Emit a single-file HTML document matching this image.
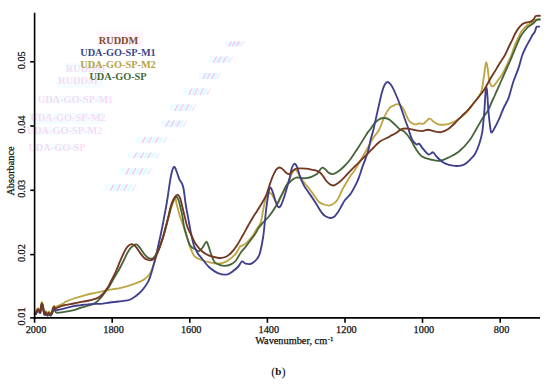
<!DOCTYPE html>
<html><head><meta charset="utf-8"><style>
html,body{margin:0;padding:0;background:#fff;}
body{width:550px;height:384px;overflow:hidden;}
svg{display:block;}
text{font-family:"Liberation Serif",serif;}
</style></head><body>
<svg width="550" height="384" viewBox="0 0 550 384">
<defs><filter id="gb" x="-5%" y="-20%" width="110%" height="140%"><feGaussianBlur stdDeviation="0.45"/></filter></defs>
<g><rect x="225.0" y="41.5" width="16.5" height="4.8" fill="#eefdff"/><line x1="228.3" y1="46.3" x2="231.8" y2="41.5" stroke="#ff8ce0" stroke-width="1.3" opacity="0.50"/><line x1="232.0" y1="46.3" x2="235.5" y2="41.5" stroke="#ff8ce0" stroke-width="1.3" opacity="0.50"/><line x1="236.0" y1="46.3" x2="239.5" y2="41.5" stroke="#ff8ce0" stroke-width="1.3" opacity="0.50"/><line x1="240.8" y1="46.3" x2="244.3" y2="41.5" stroke="#ff8ce0" stroke-width="1.3" opacity="0.25"/><line x1="230.3" y1="46.3" x2="233.8" y2="41.5" stroke="#9ff0ff" stroke-width="1.2" opacity="0.3"/><line x1="234.2" y1="46.3" x2="237.7" y2="41.5" stroke="#9ff0ff" stroke-width="1.2" opacity="0.3"/><line x1="238.2" y1="46.3" x2="241.7" y2="41.5" stroke="#9ff0ff" stroke-width="1.2" opacity="0.3"/><rect x="209.0" y="56.5" width="21.0" height="6.2" fill="#eefdff"/><line x1="213.2" y1="62.7" x2="216.7" y2="56.5" stroke="#ff8ce0" stroke-width="1.3" opacity="0.50"/><line x1="218.0" y1="62.7" x2="221.5" y2="56.5" stroke="#ff8ce0" stroke-width="1.3" opacity="0.50"/><line x1="223.0" y1="62.7" x2="226.5" y2="56.5" stroke="#ff8ce0" stroke-width="1.3" opacity="0.50"/><line x1="229.2" y1="62.7" x2="232.7" y2="56.5" stroke="#ff8ce0" stroke-width="1.3" opacity="0.25"/><line x1="215.7" y1="62.7" x2="219.2" y2="56.5" stroke="#9ff0ff" stroke-width="1.2" opacity="0.3"/><line x1="220.8" y1="62.7" x2="224.3" y2="56.5" stroke="#9ff0ff" stroke-width="1.2" opacity="0.3"/><line x1="225.8" y1="62.7" x2="229.3" y2="56.5" stroke="#9ff0ff" stroke-width="1.2" opacity="0.3"/><rect x="199.0" y="73.0" width="18.8" height="6.0" fill="#eefdff"/><line x1="202.8" y1="79.0" x2="206.2" y2="73.0" stroke="#ff8ce0" stroke-width="1.3" opacity="0.50"/><line x1="207.0" y1="79.0" x2="210.5" y2="73.0" stroke="#ff8ce0" stroke-width="1.3" opacity="0.50"/><line x1="211.5" y1="79.0" x2="215.0" y2="73.0" stroke="#ff8ce0" stroke-width="1.3" opacity="0.50"/><line x1="217.0" y1="79.0" x2="220.5" y2="73.0" stroke="#ff8ce0" stroke-width="1.3" opacity="0.25"/><line x1="205.0" y1="79.0" x2="208.5" y2="73.0" stroke="#9ff0ff" stroke-width="1.2" opacity="0.3"/><line x1="209.5" y1="79.0" x2="213.0" y2="73.0" stroke="#9ff0ff" stroke-width="1.2" opacity="0.3"/><line x1="214.0" y1="79.0" x2="217.5" y2="73.0" stroke="#9ff0ff" stroke-width="1.2" opacity="0.3"/><rect x="184.0" y="88.3" width="24.0" height="6.7" fill="#eefdff"/><line x1="188.8" y1="95.0" x2="192.3" y2="88.3" stroke="#ff8ce0" stroke-width="1.3" opacity="0.50"/><line x1="194.2" y1="95.0" x2="197.7" y2="88.3" stroke="#ff8ce0" stroke-width="1.3" opacity="0.50"/><line x1="200.0" y1="95.0" x2="203.5" y2="88.3" stroke="#ff8ce0" stroke-width="1.3" opacity="0.50"/><line x1="207.0" y1="95.0" x2="210.5" y2="88.3" stroke="#ff8ce0" stroke-width="1.3" opacity="0.25"/><line x1="191.7" y1="95.0" x2="195.2" y2="88.3" stroke="#9ff0ff" stroke-width="1.2" opacity="0.3"/><line x1="197.4" y1="95.0" x2="200.9" y2="88.3" stroke="#9ff0ff" stroke-width="1.2" opacity="0.3"/><line x1="203.2" y1="95.0" x2="206.7" y2="88.3" stroke="#9ff0ff" stroke-width="1.2" opacity="0.3"/><rect x="170.0" y="104.3" width="23.2" height="6.7" fill="#eefdff"/><line x1="174.7" y1="111.0" x2="178.2" y2="104.3" stroke="#ff8ce0" stroke-width="1.3" opacity="0.50"/><line x1="179.9" y1="111.0" x2="183.4" y2="104.3" stroke="#ff8ce0" stroke-width="1.3" opacity="0.50"/><line x1="185.5" y1="111.0" x2="189.0" y2="104.3" stroke="#ff8ce0" stroke-width="1.3" opacity="0.50"/><line x1="192.3" y1="111.0" x2="195.8" y2="104.3" stroke="#ff8ce0" stroke-width="1.3" opacity="0.25"/><line x1="177.4" y1="111.0" x2="180.9" y2="104.3" stroke="#9ff0ff" stroke-width="1.2" opacity="0.3"/><line x1="183.0" y1="111.0" x2="186.5" y2="104.3" stroke="#9ff0ff" stroke-width="1.2" opacity="0.3"/><line x1="188.6" y1="111.0" x2="192.1" y2="104.3" stroke="#9ff0ff" stroke-width="1.2" opacity="0.3"/><rect x="161.0" y="120.4" width="23.2" height="6.6" fill="#eefdff"/><line x1="165.7" y1="127.0" x2="169.2" y2="120.4" stroke="#ff8ce0" stroke-width="1.3" opacity="0.50"/><line x1="170.9" y1="127.0" x2="174.4" y2="120.4" stroke="#ff8ce0" stroke-width="1.3" opacity="0.50"/><line x1="176.5" y1="127.0" x2="180.0" y2="120.4" stroke="#ff8ce0" stroke-width="1.3" opacity="0.50"/><line x1="183.3" y1="127.0" x2="186.8" y2="120.4" stroke="#ff8ce0" stroke-width="1.3" opacity="0.25"/><line x1="168.4" y1="127.0" x2="171.9" y2="120.4" stroke="#9ff0ff" stroke-width="1.2" opacity="0.3"/><line x1="174.0" y1="127.0" x2="177.5" y2="120.4" stroke="#9ff0ff" stroke-width="1.2" opacity="0.3"/><line x1="179.6" y1="127.0" x2="183.1" y2="120.4" stroke="#9ff0ff" stroke-width="1.2" opacity="0.3"/><rect x="136.3" y="137.0" width="28.4" height="5.8" fill="#eefdff"/><line x1="142.0" y1="142.8" x2="145.5" y2="137.0" stroke="#ff8ce0" stroke-width="1.3" opacity="0.50"/><line x1="148.4" y1="142.8" x2="151.9" y2="137.0" stroke="#ff8ce0" stroke-width="1.3" opacity="0.50"/><line x1="155.2" y1="142.8" x2="158.8" y2="137.0" stroke="#ff8ce0" stroke-width="1.3" opacity="0.50"/><line x1="163.6" y1="142.8" x2="167.1" y2="137.0" stroke="#ff8ce0" stroke-width="1.3" opacity="0.25"/><line x1="145.4" y1="142.8" x2="148.9" y2="137.0" stroke="#9ff0ff" stroke-width="1.2" opacity="0.3"/><line x1="152.2" y1="142.8" x2="155.7" y2="137.0" stroke="#9ff0ff" stroke-width="1.2" opacity="0.3"/><line x1="159.0" y1="142.8" x2="162.5" y2="137.0" stroke="#9ff0ff" stroke-width="1.2" opacity="0.3"/><rect x="127.7" y="152.5" width="29.7" height="5.8" fill="#eefdff"/><line x1="133.6" y1="158.3" x2="137.1" y2="152.5" stroke="#ff8ce0" stroke-width="1.3" opacity="0.50"/><line x1="140.4" y1="158.3" x2="143.9" y2="152.5" stroke="#ff8ce0" stroke-width="1.3" opacity="0.50"/><line x1="147.5" y1="158.3" x2="151.0" y2="152.5" stroke="#ff8ce0" stroke-width="1.3" opacity="0.50"/><line x1="156.2" y1="158.3" x2="159.7" y2="152.5" stroke="#ff8ce0" stroke-width="1.3" opacity="0.25"/><line x1="137.2" y1="158.3" x2="140.7" y2="152.5" stroke="#9ff0ff" stroke-width="1.2" opacity="0.3"/><line x1="144.3" y1="158.3" x2="147.8" y2="152.5" stroke="#9ff0ff" stroke-width="1.2" opacity="0.3"/><line x1="151.5" y1="158.3" x2="155.0" y2="152.5" stroke="#9ff0ff" stroke-width="1.2" opacity="0.3"/><rect x="120.0" y="168.0" width="29.0" height="6.6" fill="#eefdff"/><line x1="125.8" y1="174.6" x2="129.3" y2="168.0" stroke="#ff8ce0" stroke-width="1.3" opacity="0.50"/><line x1="132.4" y1="174.6" x2="135.9" y2="168.0" stroke="#ff8ce0" stroke-width="1.3" opacity="0.50"/><line x1="139.3" y1="174.6" x2="142.8" y2="168.0" stroke="#ff8ce0" stroke-width="1.3" opacity="0.50"/><line x1="147.9" y1="174.6" x2="151.4" y2="168.0" stroke="#ff8ce0" stroke-width="1.3" opacity="0.25"/><line x1="129.3" y1="174.6" x2="132.8" y2="168.0" stroke="#9ff0ff" stroke-width="1.2" opacity="0.3"/><line x1="136.3" y1="174.6" x2="139.8" y2="168.0" stroke="#9ff0ff" stroke-width="1.2" opacity="0.3"/><line x1="143.2" y1="174.6" x2="146.7" y2="168.0" stroke="#9ff0ff" stroke-width="1.2" opacity="0.3"/><rect x="104.5" y="184.4" width="29.0" height="6.6" fill="#eefdff"/><line x1="110.3" y1="191.0" x2="113.8" y2="184.4" stroke="#ff8ce0" stroke-width="1.3" opacity="0.50"/><line x1="116.9" y1="191.0" x2="120.4" y2="184.4" stroke="#ff8ce0" stroke-width="1.3" opacity="0.50"/><line x1="123.8" y1="191.0" x2="127.3" y2="184.4" stroke="#ff8ce0" stroke-width="1.3" opacity="0.50"/><line x1="132.4" y1="191.0" x2="135.9" y2="184.4" stroke="#ff8ce0" stroke-width="1.3" opacity="0.25"/><line x1="113.8" y1="191.0" x2="117.3" y2="184.4" stroke="#9ff0ff" stroke-width="1.2" opacity="0.3"/><line x1="120.8" y1="191.0" x2="124.3" y2="184.4" stroke="#9ff0ff" stroke-width="1.2" opacity="0.3"/><line x1="127.7" y1="191.0" x2="131.2" y2="184.4" stroke="#9ff0ff" stroke-width="1.2" opacity="0.3"/></g>
<g filter="url(#gb)"><rect x="64.6" y="63.2" width="41.9" height="9.1" fill="#f3fdff"/><rect x="56.4" y="77.8" width="47.4" height="10.0" fill="#f3fdff"/><rect x="41.0" y="96.0" width="69.0" height="7.3" fill="#f3fdff"/><rect x="30.0" y="113.0" width="73.0" height="11.0" fill="#f3fdff"/><rect x="33.6" y="127.0" width="62.0" height="7.5" fill="#f3fdff"/><rect x="35.5" y="144.0" width="43.5" height="6.5" fill="#f3fdff"/><text x="85.5" y="72.3" text-anchor="middle" font-size="10.3" font-weight="bold" fill="#ff78da" opacity="0.26">RUDDM</text><text x="78.0" y="84.1" text-anchor="middle" font-size="10.3" font-weight="bold" fill="#ff78da" opacity="0.26">RUDDM</text><text x="75.5" y="103.3" text-anchor="middle" font-size="10.3" font-weight="bold" fill="#ff78da" opacity="0.26">UDA-GO-SP-M1</text><text x="68.0" y="120.5" text-anchor="middle" font-size="10.3" font-weight="bold" fill="#ff78da" opacity="0.26">UDA-GO-SP-M2</text><text x="64.5" y="134.0" text-anchor="middle" font-size="10.3" font-weight="bold" fill="#ff78da" opacity="0.26">UDA-GO-SP-M2</text><text x="57.0" y="150.5" text-anchor="middle" font-size="10.3" font-weight="bold" fill="#ff78da" opacity="0.26">UDA-GO-SP</text></g>
<g fill="none" stroke-width="1.85" stroke-linejoin="round" stroke-linecap="round">
<path d="M35.5 312.2 C35.9 311.5 37.2 308.4 38.0 308.2 C38.8 307.9 39.3 311.7 40.0 310.7 C40.7 309.7 41.3 301.9 42.0 302.2 C42.7 302.5 43.6 311.0 44.2 312.5 C44.8 314.0 45.3 311.0 45.8 311.2 C46.3 311.4 46.8 313.4 47.3 313.5 C47.8 313.6 48.3 311.5 48.8 311.5 C49.3 311.5 49.8 313.5 50.3 313.5 C50.8 313.5 51.2 312.6 51.8 311.4 C52.4 310.1 53.0 306.8 53.7 306.0 C54.4 305.2 54.4 307.0 56.0 306.6 C57.6 306.2 61.5 304.5 63.1 303.7 C64.7 302.9 63.7 302.7 65.5 301.8 C67.3 300.9 70.8 299.5 73.7 298.5 C76.6 297.5 79.8 296.6 82.8 295.8 C85.8 295.0 88.9 294.2 91.9 293.5 C94.9 292.8 98.0 292.3 101.0 291.7 C104.0 291.1 107.0 290.3 110.0 289.7 C113.0 289.1 116.2 288.9 119.1 288.3 C122.0 287.7 124.7 287.1 127.5 286.2 C130.3 285.3 133.5 284.2 136.2 283.2 C138.9 282.1 141.6 281.1 143.5 279.9 C145.4 278.7 146.7 277.5 147.9 276.2 C149.1 274.9 149.8 273.8 150.8 271.9 C151.8 270.0 152.7 267.3 153.7 264.6 C154.7 261.9 155.6 258.7 156.6 255.8 C157.6 252.9 158.5 250.0 159.5 247.0 C160.5 244.0 161.5 241.2 162.5 238.0 C163.5 234.8 164.4 231.7 165.5 228.0 C166.6 224.3 167.8 219.5 168.8 216.0 C169.8 212.5 170.7 209.4 171.5 207.0 C172.3 204.6 172.8 202.8 173.5 201.5 C174.2 200.2 175.0 198.6 175.5 199.0 C176.0 199.4 176.2 202.2 176.6 204.0 C177.0 205.8 177.7 208.1 178.2 210.0 C178.7 211.9 179.1 213.7 179.7 215.4 C180.2 217.2 180.9 218.8 181.5 220.5 C182.1 222.2 182.7 223.7 183.4 225.8 C184.1 227.9 184.8 230.6 185.5 233.0 C186.2 235.4 186.9 237.5 187.7 240.0 C188.5 242.5 189.2 245.1 190.4 247.8 C191.6 250.5 192.7 254.3 194.6 256.3 C196.5 258.3 199.5 259.0 201.9 260.0 C204.3 261.0 206.5 261.6 209.2 262.2 C211.9 262.8 215.0 263.7 217.9 263.6 C220.8 263.5 223.7 263.0 226.6 261.4 C229.5 259.8 233.2 256.6 235.4 254.2 C237.6 251.8 238.4 248.5 239.8 246.9 C241.2 245.3 242.9 245.4 244.1 244.7 C245.3 244.0 246.2 243.4 247.1 242.5 C248.0 241.6 248.5 240.7 249.5 239.5 C250.5 238.3 251.5 237.6 252.9 235.5 C254.3 233.4 256.7 229.2 258.0 227.0 C259.3 224.8 260.0 225.2 260.8 222.5 C261.6 219.8 262.3 214.7 263.0 211.0 C263.7 207.3 264.4 203.2 265.2 200.5 C265.9 197.8 266.6 196.3 267.5 195.0 C268.4 193.7 269.5 192.7 270.3 192.8 C271.1 192.9 271.7 194.2 272.5 195.5 C273.3 196.8 274.2 199.1 275.0 200.5 C275.8 201.9 276.6 204.3 277.5 204.0 C278.4 203.7 279.1 200.7 280.2 198.5 C281.3 196.3 282.8 193.1 283.9 190.8 C285.0 188.6 285.9 187.0 286.8 185.0 C287.8 183.0 288.6 181.2 289.6 179.0 C290.6 176.8 291.7 173.6 292.6 172.0 C293.6 170.4 294.4 169.6 295.3 169.7 C296.2 169.8 297.1 171.1 298.0 172.5 C298.9 173.9 300.1 176.5 301.0 178.0 C301.9 179.5 302.1 179.9 303.2 181.4 C304.3 182.9 306.1 184.8 307.8 186.9 C309.5 189.0 311.3 191.6 313.2 194.1 C315.1 196.6 317.2 200.3 319.0 202.0 C320.8 203.7 322.3 203.9 324.0 204.5 C325.7 205.1 327.7 205.7 329.2 205.6 C330.7 205.5 331.8 204.7 333.0 204.0 C334.2 203.3 335.3 202.5 336.4 201.2 C337.5 199.9 338.5 197.9 339.5 196.0 C340.5 194.1 341.1 191.9 342.3 189.6 C343.5 187.3 345.2 184.7 346.6 182.3 C348.1 179.9 349.9 176.7 351.0 175.0 C352.1 173.3 351.4 175.2 353.3 172.3 C355.2 169.4 359.7 161.8 362.1 157.7 C364.5 153.6 366.0 150.9 367.9 147.5 C369.8 144.1 371.8 140.2 373.7 137.3 C375.6 134.4 377.1 133.6 379.0 130.0 C380.9 126.4 383.1 119.4 384.8 115.8 C386.5 112.2 387.8 110.2 389.2 108.5 C390.6 106.8 392.1 106.3 393.5 105.6 C394.9 104.9 396.4 104.0 397.9 104.2 C399.4 104.5 401.1 105.6 402.3 107.1 C403.5 108.5 404.0 110.5 405.2 112.9 C406.4 115.3 408.0 119.5 409.6 121.4 C411.2 123.3 413.2 124.1 414.8 124.4 C416.4 124.7 417.8 123.4 419.2 123.3 C420.6 123.2 421.8 124.4 423.5 123.6 C425.2 122.8 427.7 119.0 429.4 118.7 C431.1 118.4 432.2 120.8 433.7 121.7 C435.1 122.6 436.2 123.8 438.1 124.3 C440.1 124.8 443.0 124.9 445.4 124.6 C447.8 124.3 450.3 123.5 452.7 122.4 C455.1 121.3 457.6 119.8 460.0 118.0 C462.4 116.2 465.1 113.8 467.3 111.5 C469.5 109.2 471.1 106.6 473.0 104.0 C474.9 101.4 477.5 98.3 479.0 96.0 C480.5 93.7 481.1 92.7 481.8 90.0 C482.5 87.3 482.9 83.2 483.4 80.0 C483.9 76.8 484.2 73.9 484.6 71.0 C485.1 68.1 485.6 62.9 486.1 62.5 C486.6 62.1 487.2 65.6 487.7 68.5 C488.2 71.4 488.5 77.1 489.1 80.0 C489.7 82.9 490.6 85.1 491.4 86.0 C492.2 86.9 493.0 86.4 494.1 85.5 C495.2 84.6 496.4 82.4 497.8 80.5 C499.2 78.6 500.8 76.7 502.3 74.1 C503.8 71.5 505.4 68.2 506.9 65.0 C508.4 61.8 510.1 58.2 511.4 55.0 C512.7 51.8 513.4 48.8 514.5 46.0 C515.6 43.2 516.8 40.8 518.0 38.3 C519.2 35.8 520.2 33.2 521.5 31.3 C522.8 29.4 524.2 27.8 525.5 26.6 C526.8 25.4 528.2 24.8 529.5 24.0 C530.8 23.2 532.0 22.7 533.0 22.0 C534.0 21.3 534.4 20.2 535.5 19.8 C536.6 19.4 538.8 19.5 539.5 19.4" stroke="#bea644"/>
<path d="M35.9 314.4 C36.3 313.7 37.6 310.6 38.4 310.4 C39.1 310.1 39.7 313.9 40.4 312.9 C41.1 311.9 41.7 304.1 42.4 304.4 C43.1 304.7 44.0 313.2 44.6 314.7 C45.2 316.2 45.7 313.2 46.2 313.4 C46.7 313.6 47.2 315.6 47.7 315.7 C48.2 315.8 48.7 313.7 49.2 313.7 C49.7 313.7 50.2 315.7 50.7 315.7 C51.2 315.7 51.6 314.8 52.2 313.6 C52.8 312.3 53.5 308.4 54.1 308.2 C54.7 308.0 54.5 311.8 56.0 312.5 C57.5 313.2 60.0 312.6 63.0 312.2 C66.0 311.8 71.2 310.9 74.0 310.2 C76.8 309.5 77.8 308.7 80.0 308.0 C82.2 307.3 84.9 306.7 87.3 305.9 C89.7 305.1 92.8 304.2 94.6 303.3 C96.4 302.4 97.1 301.5 98.3 300.3 C99.5 299.1 100.7 297.9 102.0 296.3 C103.3 294.8 104.7 292.8 106.0 291.0 C107.3 289.2 108.7 287.5 110.0 285.3 C111.3 283.1 112.8 280.1 114.0 278.0 C115.2 275.9 116.2 274.4 117.0 273.0 C117.8 271.6 118.0 271.6 119.1 269.5 C120.2 267.4 122.2 263.5 123.7 260.5 C125.2 257.5 126.8 253.7 128.2 251.4 C129.6 249.1 130.5 248.0 131.9 246.8 C133.3 245.6 135.1 244.1 136.4 244.3 C137.8 244.5 138.8 246.3 140.0 247.8 C141.2 249.3 142.5 251.6 143.7 253.2 C144.9 254.8 146.2 256.4 147.3 257.3 C148.4 258.2 149.0 258.6 150.1 258.7 C151.2 258.8 152.5 258.6 153.7 257.6 C154.8 256.7 155.9 254.9 157.0 253.0 C158.1 251.1 158.9 248.8 160.0 246.0 C161.1 243.2 162.3 239.8 163.5 236.0 C164.7 232.2 165.7 228.2 167.0 223.0 C168.3 217.8 170.3 209.0 171.5 205.0 C172.7 201.0 173.3 200.3 174.2 199.0 C175.1 197.7 176.1 196.8 176.8 197.0 C177.5 197.2 178.1 199.2 178.6 200.5 C179.1 201.8 179.3 202.5 179.9 205.0 C180.5 207.5 181.6 211.9 182.3 215.4 C183.0 218.9 183.2 222.3 183.9 225.8 C184.7 229.3 185.9 233.1 186.8 236.2 C187.8 239.3 188.7 242.6 189.6 244.5 C190.5 246.4 191.5 247.0 192.5 247.8 C193.5 248.6 194.4 248.7 195.5 249.3 C196.6 249.9 197.8 251.6 199.0 251.2 C200.2 250.8 201.8 248.6 203.0 247.0 C204.2 245.4 205.3 242.0 206.2 241.8 C207.1 241.6 207.8 244.2 208.5 246.0 C209.2 247.8 209.8 250.5 210.6 252.7 C211.3 254.9 212.2 257.3 213.0 259.0 C213.8 260.7 213.7 261.9 215.5 263.0 C217.3 264.1 221.1 265.6 223.7 265.8 C226.3 266.0 228.9 265.3 231.0 264.4 C233.1 263.5 234.4 262.4 236.0 260.5 C237.6 258.6 238.9 255.3 240.5 253.0 C242.1 250.7 244.0 248.9 245.6 246.9 C247.2 244.9 248.4 243.1 250.0 241.0 C251.6 238.9 253.6 236.5 255.0 234.3 C256.4 232.1 257.2 230.0 258.6 228.0 C260.0 226.0 261.7 224.1 263.3 222.3 C264.9 220.6 266.5 219.3 268.0 217.5 C269.5 215.7 271.1 213.6 272.5 211.5 C273.9 209.4 275.3 207.3 276.6 205.0 C277.9 202.7 279.0 200.1 280.2 197.7 C281.4 195.3 282.8 192.6 283.9 190.4 C285.0 188.2 285.8 186.2 286.8 184.8 C287.8 183.4 288.7 183.1 289.7 182.2 C290.7 181.3 291.5 180.4 292.6 179.6 C293.7 178.8 294.9 177.9 296.3 177.6 C297.7 177.3 299.2 177.8 300.8 177.9 C302.4 178.0 304.1 178.4 305.9 178.2 C307.7 178.0 309.6 177.5 311.4 176.8 C313.2 176.1 315.5 175.2 316.9 174.1 C318.3 173.0 318.7 171.6 319.6 170.5 C320.5 169.4 321.4 167.9 322.3 167.7 C323.2 167.5 324.0 168.3 325.1 169.1 C326.2 169.9 327.5 171.9 328.7 172.7 C329.9 173.5 330.8 174.2 332.3 174.1 C333.8 173.9 335.9 173.1 337.8 171.8 C339.8 170.5 341.9 168.6 344.0 166.5 C346.1 164.4 347.9 162.6 350.4 159.2 C352.9 155.8 356.5 150.1 359.2 146.0 C361.9 141.9 364.6 137.2 366.4 134.4 C368.2 131.7 368.7 131.4 370.1 129.5 C371.5 127.6 372.9 124.9 374.6 123.1 C376.3 121.3 378.7 119.5 380.4 118.7 C382.1 117.9 383.3 117.9 384.8 118.0 C386.3 118.1 387.5 118.4 389.2 119.5 C390.9 120.6 393.3 123.0 395.0 124.6 C396.7 126.2 397.8 127.7 399.4 128.9 C401.0 130.1 402.8 130.2 404.6 131.9 C406.4 133.6 408.5 136.3 410.4 139.2 C412.3 142.1 414.2 146.5 416.2 149.4 C418.1 152.3 419.7 154.9 422.1 156.6 C424.5 158.3 427.9 158.8 430.8 159.5 C433.7 160.2 436.6 161.2 439.6 160.9 C442.6 160.6 445.5 159.1 448.7 157.5 C451.9 155.9 455.6 154.3 459.0 151.5 C462.4 148.7 466.3 144.6 469.2 140.8 C472.1 137.1 474.2 132.7 476.4 129.0 C478.6 125.3 480.4 121.8 482.3 118.7 C484.2 115.6 486.5 113.2 488.0 110.5 C489.5 107.8 490.3 105.1 491.5 102.5 C492.7 99.9 493.9 97.5 495.0 95.0 C496.1 92.5 497.2 89.9 498.3 87.5 C499.4 85.1 500.4 82.8 501.4 80.5 C502.4 78.2 503.4 76.0 504.4 73.7 C505.4 71.5 506.4 69.2 507.4 67.0 C508.4 64.8 509.4 62.7 510.3 60.5 C511.2 58.3 511.9 56.6 513.0 54.0 C514.1 51.4 515.5 47.9 516.7 45.0 C518.0 42.1 519.3 38.7 520.5 36.5 C521.7 34.3 522.7 33.3 523.8 31.8 C524.9 30.3 526.2 28.7 527.3 27.6 C528.4 26.5 529.6 25.9 530.6 25.2 C531.6 24.5 532.7 23.9 533.5 23.2 C534.3 22.5 534.9 21.6 535.5 21.0 C536.1 20.4 536.2 19.9 537.0 19.6 C537.8 19.4 539.5 19.5 540.0 19.5" stroke="#48663b"/>
<path d="M35.5 314.0 C35.9 313.3 37.2 310.2 38.0 310.0 C38.8 309.8 39.3 313.5 40.0 312.5 C40.7 311.5 41.3 303.7 42.0 304.0 C42.7 304.3 43.6 312.8 44.2 314.3 C44.8 315.8 45.3 312.8 45.8 313.0 C46.3 313.2 46.8 315.2 47.3 315.3 C47.8 315.4 48.3 313.3 48.8 313.3 C49.3 313.3 49.8 315.3 50.3 315.3 C50.8 315.3 51.2 314.4 51.8 313.2 C52.4 311.9 53.0 308.3 53.7 307.8 C54.4 307.3 54.5 310.0 56.0 310.2 C57.5 310.4 60.0 309.5 63.0 308.8 C66.0 308.1 70.9 306.8 73.7 306.2 C76.5 305.6 77.7 305.6 80.0 305.3 C82.3 305.0 84.6 304.6 87.3 304.4 C90.0 304.1 94.1 303.9 96.4 303.8 C98.7 303.7 98.7 304.1 101.0 303.9 C103.3 303.7 107.0 302.9 110.0 302.5 C113.0 302.1 115.8 301.9 118.7 301.5 C121.6 301.1 125.2 300.9 127.5 300.4 C129.8 299.9 131.1 299.1 132.5 298.3 C133.9 297.5 134.6 297.1 136.2 295.8 C137.8 294.5 140.1 292.6 142.1 290.3 C144.1 288.0 146.4 284.7 147.9 282.1 C149.4 279.5 149.8 277.7 150.8 274.8 C151.8 271.9 152.9 267.5 153.7 264.6 C154.5 261.7 154.8 260.6 155.6 257.5 C156.3 254.4 157.3 250.2 158.2 246.0 C159.1 241.8 160.2 237.0 161.2 232.3 C162.2 227.6 163.1 223.1 164.0 218.0 C164.9 212.9 166.1 207.1 166.9 202.0 C167.8 196.9 168.4 191.9 169.1 187.3 C169.8 182.7 170.5 177.6 171.3 174.2 C172.1 170.8 173.1 167.2 174.0 166.8 C174.9 166.4 175.9 169.8 176.8 172.0 C177.7 174.2 178.7 177.9 179.5 179.7 C180.3 181.5 181.0 181.4 181.7 183.0 C182.4 184.6 182.9 185.3 183.6 189.0 C184.3 192.7 185.1 200.6 185.8 205.0 C186.5 209.4 187.1 211.9 187.7 215.4 C188.3 218.9 188.9 222.3 189.6 225.8 C190.2 229.3 190.9 233.0 191.6 236.2 C192.3 239.4 192.9 242.3 193.8 245.0 C194.7 247.7 195.8 250.2 197.2 252.5 C198.5 254.8 199.9 256.0 201.9 258.5 C203.9 261.0 206.5 264.9 209.2 267.3 C211.9 269.7 215.0 271.9 217.9 273.1 C220.8 274.3 224.2 274.9 226.6 274.6 C229.0 274.4 230.6 273.0 232.5 271.6 C234.4 270.2 236.7 268.2 238.3 266.5 C239.9 264.8 240.8 261.9 242.0 261.4 C243.2 260.9 244.0 263.2 245.6 263.6 C247.2 264.0 249.4 264.5 251.4 263.6 C253.4 262.8 255.9 260.3 257.3 258.5 C258.7 256.7 259.0 256.4 260.0 252.7 C261.0 248.9 262.3 243.2 263.3 236.0 C264.3 228.8 265.3 216.4 266.2 209.2 C267.1 202.0 267.8 196.6 268.5 193.0 C269.2 189.4 269.7 187.6 270.4 187.5 C271.1 187.4 272.0 190.2 272.9 192.6 C273.8 195.0 274.9 199.6 275.8 202.0 C276.7 204.4 277.5 206.4 278.3 207.0 C279.1 207.6 280.0 207.1 280.9 205.5 C281.8 203.9 282.9 200.6 283.9 197.7 C284.9 194.8 285.9 191.4 286.8 188.2 C287.7 185.0 288.7 181.8 289.5 178.5 C290.3 175.2 290.9 170.9 291.7 168.5 C292.5 166.1 293.5 164.0 294.4 163.8 C295.3 163.6 296.3 165.2 297.2 167.3 C298.1 169.4 298.8 173.5 299.9 176.4 C300.9 179.3 302.3 182.2 303.5 184.6 C304.7 187.0 305.4 187.8 307.3 190.6 C309.2 193.4 312.2 197.5 314.6 201.2 C317.0 204.9 320.0 210.3 321.9 212.9 C323.8 215.5 324.6 215.7 326.0 216.5 C327.4 217.3 329.2 218.0 330.6 218.0 C332.0 218.0 333.3 217.5 334.5 216.5 C335.7 215.5 336.7 213.9 337.9 212.2 C339.1 210.4 340.3 208.1 341.5 206.0 C342.7 203.9 343.6 201.9 345.2 199.8 C346.8 197.7 349.1 196.1 351.0 193.2 C352.9 190.3 355.4 185.3 356.9 182.3 C358.4 179.3 358.9 177.4 359.8 175.0 C360.7 172.6 360.8 171.8 362.1 167.9 C363.5 164.1 366.4 156.7 367.9 151.9 C369.3 147.1 369.9 142.7 370.8 139.0 C371.7 135.3 372.4 134.1 373.5 129.5 C374.6 124.9 376.1 117.6 377.5 111.4 C378.9 105.2 380.7 97.0 381.9 92.5 C383.1 88.0 383.8 86.2 384.8 84.5 C385.8 82.8 386.6 81.9 387.7 82.0 C388.8 82.1 390.1 83.5 391.3 85.2 C392.5 87.0 393.6 89.3 395.0 92.5 C396.4 95.7 398.3 100.1 399.8 104.2 C401.3 108.3 402.9 113.5 404.2 117.3 C405.5 121.1 406.5 123.3 407.8 127.0 C409.1 130.7 410.5 136.3 411.9 139.2 C413.3 142.1 415.0 143.5 416.2 144.3 C417.4 145.1 418.0 143.0 419.2 143.8 C420.4 144.7 421.9 147.6 423.5 149.4 C425.1 151.2 427.0 154.0 428.6 154.5 C430.2 155.0 431.7 152.0 433.0 152.3 C434.3 152.7 435.0 155.0 436.6 156.6 C438.2 158.2 440.4 160.6 442.5 162.0 C444.6 163.4 446.5 164.2 449.0 164.9 C451.5 165.6 455.0 166.1 457.5 166.0 C460.0 165.9 462.0 165.5 464.0 164.6 C466.0 163.7 467.6 162.1 469.4 160.3 C471.2 158.5 473.3 156.8 475.0 154.0 C476.7 151.2 478.2 147.2 479.4 143.5 C480.6 139.8 481.6 136.1 482.3 131.9 C483.0 127.7 483.3 122.3 483.7 118.5 C484.1 114.7 484.2 112.6 484.5 109.0 C484.8 105.4 485.0 100.2 485.2 97.0 C485.4 93.8 485.6 91.1 485.8 89.5 C486.0 87.9 486.1 87.2 486.3 87.2 C486.5 87.2 486.7 87.9 486.9 89.5 C487.1 91.1 487.3 93.9 487.5 97.0 C487.7 100.1 487.9 104.3 488.2 108.0 C488.5 111.7 488.8 115.7 489.2 119.0 C489.6 122.3 489.9 125.7 490.3 128.0 C490.7 130.3 490.9 132.8 491.7 132.6 C492.5 132.3 494.0 129.1 495.4 126.5 C496.8 124.0 498.4 120.4 499.8 117.3 C501.2 114.2 502.2 111.1 503.6 108.0 C505.0 104.9 507.0 102.0 508.3 98.7 C509.6 95.4 510.6 90.9 511.5 88.0 C512.4 85.1 512.3 84.5 513.5 81.2 C514.7 77.9 517.0 72.4 518.5 68.1 C520.0 63.8 521.0 59.0 522.2 55.5 C523.4 52.0 524.7 49.6 525.9 47.1 C527.1 44.6 528.4 42.5 529.5 40.5 C530.6 38.5 531.6 36.4 532.5 35.0 C533.4 33.6 534.1 33.2 534.7 32.0 C535.3 30.8 535.8 28.4 536.2 27.5 C536.6 26.6 536.5 26.8 537.0 26.6 C537.5 26.5 538.9 26.6 539.3 26.6" stroke="#3f3f8e"/>
<path d="M35.5 313.3 C35.9 312.6 37.2 309.6 38.0 309.3 C38.8 309.1 39.3 312.8 40.0 311.8 C40.7 310.8 41.3 303.0 42.0 303.3 C42.7 303.6 43.6 312.1 44.2 313.6 C44.8 315.1 45.3 312.1 45.8 312.3 C46.3 312.5 46.8 314.6 47.3 314.6 C47.8 314.7 48.3 312.6 48.8 312.6 C49.3 312.6 49.8 314.6 50.3 314.6 C50.8 314.6 51.2 313.8 51.8 312.5 C52.4 311.2 53.0 307.8 53.7 307.1 C54.4 306.4 54.5 308.5 56.0 308.2 C57.5 307.9 60.0 306.3 63.0 305.5 C66.0 304.7 70.4 304.1 73.7 303.5 C77.0 302.9 79.8 302.3 82.8 301.7 C85.8 301.1 89.3 300.5 91.9 299.8 C94.5 299.1 96.5 298.6 98.3 297.6 C100.1 296.6 101.4 295.3 102.8 293.9 C104.2 292.5 105.4 290.8 106.4 289.4 C107.4 288.0 107.9 287.3 108.9 285.4 C109.9 283.5 111.3 280.6 112.6 278.1 C113.8 275.6 115.2 273.1 116.4 270.3 C117.6 267.5 118.8 264.2 120.0 261.4 C121.2 258.5 122.5 255.6 123.7 253.2 C124.9 250.8 126.0 248.3 127.3 246.8 C128.6 245.3 130.2 244.3 131.4 244.1 C132.6 243.9 133.6 244.7 134.6 245.5 C135.6 246.3 136.2 247.3 137.3 248.7 C138.4 250.1 139.8 252.5 141.0 254.1 C142.2 255.7 143.4 257.2 144.6 258.2 C145.8 259.2 147.3 259.6 148.3 260.0 C149.3 260.4 149.6 260.5 150.5 260.3 C151.4 260.1 152.7 259.6 153.7 258.7 C154.7 257.8 155.5 256.3 156.4 254.6 C157.3 252.9 158.1 251.4 159.2 248.7 C160.2 246.0 161.6 242.3 162.7 238.5 C163.8 234.7 165.0 229.8 166.0 226.0 C167.0 222.2 167.8 219.1 168.6 216.0 C169.3 212.9 169.7 210.4 170.5 207.6 C171.3 204.8 172.4 201.0 173.6 198.9 C174.8 196.8 176.3 195.0 177.4 194.8 C178.5 194.6 179.3 196.2 180.0 197.8 C180.7 199.4 181.1 201.6 181.8 204.5 C182.5 207.4 183.5 211.8 184.4 215.4 C185.3 219.0 186.2 223.1 187.0 225.8 C187.8 228.5 188.6 229.6 189.5 231.5 C190.4 233.4 191.2 235.0 192.2 237.0 C193.2 239.0 193.8 241.1 195.4 243.5 C197.0 245.9 199.6 249.2 201.9 251.2 C204.2 253.2 206.5 254.5 209.2 255.6 C211.9 256.7 215.8 257.4 217.9 257.8 C220.0 258.2 220.6 258.0 222.0 257.8 C223.4 257.6 225.0 257.3 226.5 256.5 C228.0 255.7 229.3 254.8 231.0 253.0 C232.7 251.2 235.2 247.9 236.9 245.4 C238.6 242.9 239.9 240.4 241.2 238.1 C242.5 235.8 243.7 233.8 244.9 231.6 C246.1 229.4 247.3 227.1 248.5 225.0 C249.7 222.9 250.6 221.2 252.0 218.9 C253.4 216.6 255.4 213.6 257.1 210.9 C258.8 208.2 260.4 205.7 262.0 203.0 C263.6 200.3 265.2 197.6 266.4 194.8 C267.6 192.0 268.4 188.6 269.3 186.0 C270.2 183.4 270.8 181.4 271.5 179.5 C272.2 177.6 272.7 176.2 273.5 174.6 C274.3 172.9 275.2 170.8 276.2 169.6 C277.2 168.4 278.3 167.6 279.4 167.5 C280.5 167.4 281.5 168.2 282.6 169.1 C283.7 170.0 285.1 172.0 286.2 172.8 C287.3 173.6 288.3 174.4 289.4 174.1 C290.5 173.8 291.5 171.8 292.6 170.9 C293.8 170.0 294.9 169.1 296.3 168.7 C297.7 168.3 299.2 168.4 300.8 168.4 C302.4 168.4 304.2 168.4 306.0 168.6 C307.8 168.8 309.6 169.2 311.4 169.6 C313.2 170.0 315.5 170.4 316.9 170.9 C318.3 171.4 318.7 171.6 319.6 172.3 C320.5 173.0 321.2 173.6 322.3 175.0 C323.4 176.4 324.8 179.0 326.0 180.5 C327.2 182.0 328.4 183.3 329.6 184.1 C330.8 184.9 331.9 185.7 333.3 185.5 C334.7 185.3 336.5 184.0 337.8 183.2 C339.1 182.4 339.8 181.7 341.0 180.6 C342.2 179.5 342.9 178.7 345.0 176.6 C347.1 174.5 350.4 170.8 353.3 167.9 C356.2 165.0 359.2 162.1 362.1 159.2 C365.0 156.3 367.9 153.3 370.8 150.4 C373.7 147.5 376.7 143.9 379.6 141.7 C382.5 139.5 386.6 138.2 388.3 137.3 C390.0 136.4 388.8 136.9 390.0 136.2 C391.2 135.5 393.9 134.5 395.8 133.3 C397.8 132.1 399.8 129.8 401.7 129.0 C403.6 128.2 405.1 128.5 407.5 128.7 C409.9 128.9 413.8 130.0 416.2 130.4 C418.6 130.8 420.2 131.2 422.1 131.1 C424.1 131.0 426.0 129.7 427.9 129.7 C429.8 129.7 431.5 130.7 433.7 131.1 C435.9 131.5 438.6 132.5 441.0 132.2 C443.4 131.8 446.0 130.5 448.3 129.0 C450.6 127.5 452.7 125.2 455.0 123.0 C457.3 120.8 459.9 117.9 462.0 115.8 C464.1 113.7 465.7 112.5 467.5 110.5 C469.3 108.5 471.0 106.4 473.0 104.0 C475.0 101.6 477.7 98.3 479.5 96.0 C481.3 93.7 482.6 92.2 484.0 90.0 C485.4 87.8 486.8 85.2 488.0 83.0 C489.2 80.8 490.4 78.7 491.5 76.8 C492.6 74.9 493.6 73.4 494.7 71.7 C495.8 70.0 496.8 68.2 497.8 66.5 C498.8 64.8 499.7 63.4 500.9 61.5 C502.1 59.6 503.7 57.3 505.0 55.0 C506.3 52.7 507.4 49.9 508.5 47.5 C509.6 45.1 510.7 43.1 511.9 40.7 C513.1 38.3 514.2 35.3 515.5 33.0 C516.8 30.7 518.2 28.5 519.6 26.9 C521.0 25.3 522.2 24.2 523.6 23.4 C525.0 22.6 526.9 22.6 528.3 22.2 C529.7 21.8 530.8 21.7 531.8 21.1 C532.8 20.5 533.5 19.5 534.1 18.7 C534.7 17.9 535.1 16.7 535.6 16.2 C536.1 15.7 536.3 15.9 537.0 15.8 C537.7 15.7 539.5 15.8 540.0 15.8" stroke="#743721"/>
</g>
<g stroke="#000" stroke-width="1.6" fill="none">
<line x1="34.6" y1="12.8" x2="34.6" y2="319"/>
<line x1="33.8" y1="317.9" x2="540" y2="317.9"/>
<line x1="34.6" y1="317.9" x2="34.6" y2="322.8"/><line x1="112.2" y1="317.9" x2="112.2" y2="322.8"/><line x1="189.8" y1="317.9" x2="189.8" y2="322.8"/><line x1="267.4" y1="317.9" x2="267.4" y2="322.8"/><line x1="345.0" y1="317.9" x2="345.0" y2="322.8"/><line x1="422.5" y1="317.9" x2="422.5" y2="322.8"/><line x1="500.2" y1="317.9" x2="500.2" y2="322.8"/><line x1="30.2" y1="61.8" x2="34.6" y2="61.8"/><line x1="30.2" y1="126.0" x2="34.6" y2="126.0"/><line x1="30.2" y1="190.3" x2="34.6" y2="190.3"/><line x1="30.2" y1="254.6" x2="34.6" y2="254.6"/><line x1="30.2" y1="317.9" x2="34.6" y2="317.9"/>
</g>
<g font-size="10.3" fill="#111" stroke="#111" stroke-width="0.25">
<text x="36.0" y="332.8" text-anchor="middle">2000</text><text x="113.6" y="332.8" text-anchor="middle">1800</text><text x="191.2" y="332.8" text-anchor="middle">1600</text><text x="268.8" y="332.8" text-anchor="middle">1400</text><text x="346.4" y="332.8" text-anchor="middle">1200</text><text x="423.9" y="332.8" text-anchor="middle">1000</text><text x="501.6" y="332.8" text-anchor="middle">800</text>
<text transform="translate(25.3 60.3) rotate(-90)" text-anchor="middle">0.05</text><text transform="translate(25.3 124.5) rotate(-90)" text-anchor="middle">0.04</text><text transform="translate(25.3 188.8) rotate(-90)" text-anchor="middle">0.03</text><text transform="translate(25.3 253.1) rotate(-90)" text-anchor="middle">0.02</text><text transform="translate(25.3 316.4) rotate(-90)" text-anchor="middle">0.01</text>
</g>
<text transform="translate(14.2 171) rotate(-90)" text-anchor="middle" font-size="10.3" fill="#111" stroke="#111" stroke-width="0.25">Absorbance</text>
<text x="255.2" y="344.2" font-size="10.3" fill="#111" stroke="#111" stroke-width="0.25">Wavenumber, cm<tspan font-size="7" dy="-3.6" dx="0.6">-1</tspan></text>
<text x="278.4" y="376" text-anchor="middle" font-size="12.4" fill="#111">(<tspan font-weight="bold" font-size="11" dy="-0.6">b</tspan><tspan dy="0.6">)</tspan></text>
<rect x="96.7" y="31.6" width="46.6" height="14.5" fill="#fff5fa"/>
<g font-size="10.3" font-weight="bold" text-anchor="middle">
<text x="118.5" y="43.6" fill="#7f4a2c">RUDDM</text>
<text x="118" y="55.8" fill="#3c4889">UDA-GO-SP-M1</text>
<text x="118" y="67.6" fill="#b4a445">UDA-GO-SP-M2</text>
<text x="118" y="79.5" fill="#43693a">UDA-GO-SP</text>
</g>
</svg>
</body></html>
